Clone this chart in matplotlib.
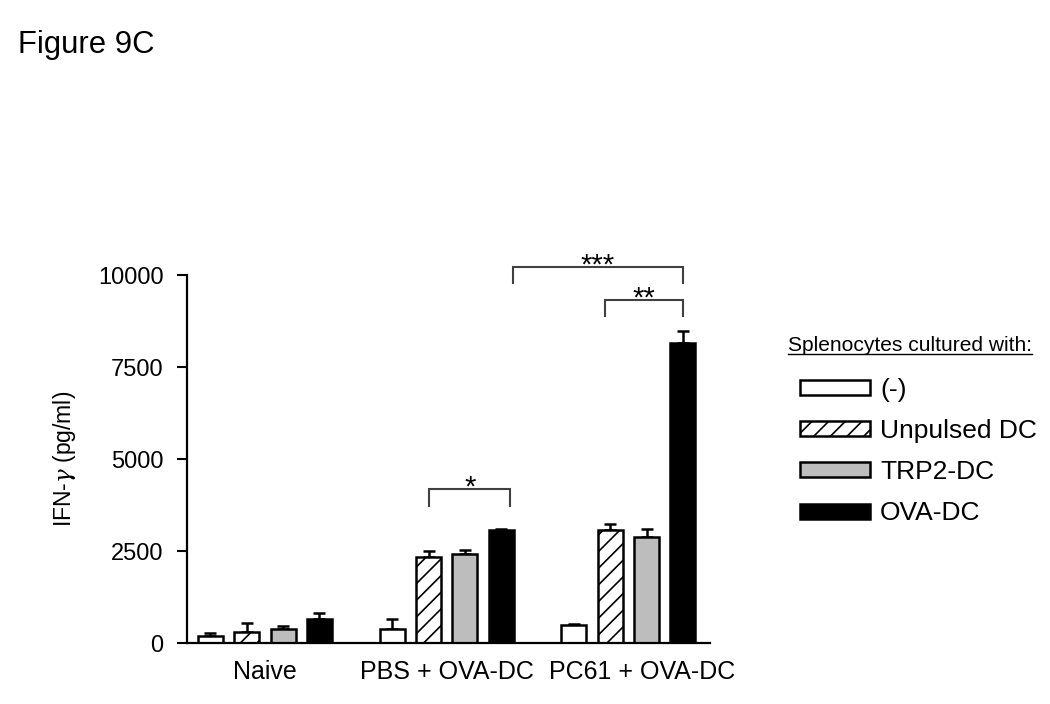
import numpy as np
import matplotlib
matplotlib.use("Agg")
import matplotlib.pyplot as plt
import matplotlib.transforms as mtransforms
from matplotlib.lines import Line2D

plt.rcParams['font.family'] = ['Liberation Sans', 'DejaVu Sans']
plt.rcParams['hatch.linewidth'] = 1.2
plt.rcParams['mathtext.fontset'] = 'custom'
plt.rcParams['mathtext.it'] = 'DejaVu Serif:italic'

groups = ["Naive", "PBS + OVA-DC", "PC61 + OVA-DC"]
series = ["(-)", "Unpulsed DC", "TRP2-DC", "OVA-DC"]
values = {
    "(-)":         [200, 380, 490],
    "Unpulsed DC": [300, 2350, 3070],
    "TRP2-DC":     [380, 2430, 2880],
    "OVA-DC":      [650, 3060, 8150],
}
errors = {
    "(-)":         [60, 270, 30],
    "Unpulsed DC": [240, 150, 160],
    "TRP2-DC":     [80, 90, 210],
    "OVA-DC":      [160, 40, 330],
}
face = {"(-)": "white", "Unpulsed DC": "white", "TRP2-DC": "#bdbdbd", "OVA-DC": "black"}
hatch = {"(-)": None, "Unpulsed DC": "//", "TRP2-DC": None, "OVA-DC": None}

fig = plt.figure(figsize=(10.5, 7.04), dpi=100)
W, H = 1050, 704
ax = fig.add_axes([187 / W, 1 - 643 / H, (710 - 187) / W, (643 - 275) / H])

x = np.arange(len(groups))
step = 0.2
width = 0.137
handles = []
for i, s in enumerate(series):
    pos = x + (i - 1.5) * step
    b = ax.bar(pos, values[s], width=width, color=face[s], edgecolor='black',
               linewidth=1.8, hatch=hatch[s], label=s, zorder=2)
    handles.append(b)
    ax.errorbar(pos, values[s], yerr=[np.zeros(len(groups)), errors[s]], fmt='none',
                ecolor='black', elinewidth=1.8, capsize=4, capthick=1.8, zorder=1)

ax.set_xlim(-0.429, 2.449)
ax.set_ylim(0, 10000)
ax.set_yticks([0, 2500, 5000, 7500, 10000])
ax.set_xticks(x)
ax.set_xticklabels(groups, fontsize=18)
ax.tick_params(axis='y', labelsize=17, length=7, width=1.5, direction='out', pad=10)
ax.tick_params(axis='x', length=0, pad=12)
# the last group label sits a little to the right in the original
lab = ax.get_xticklabels()[-1]
lab.set_transform(lab.get_transform() +
                  mtransforms.ScaledTranslation(14 / 100, 0, fig.dpi_scale_trans))
for sp in ['top', 'right']:
    ax.spines[sp].set_visible(False)
for sp in ['left', 'bottom']:
    ax.spines[sp].set_linewidth(1.6)
ax.set_ylabel(r"IFN-$\gamma$ (pg/ml)", fontsize=16.5, labelpad=14)

px = 10000 / 368.0  # data units per pixel


def bracket(x1, x2, y, drop, label):
    ax.plot([x1, x1, x2, x2], [y - drop, y, y, y - drop], color='#404040', lw=1.5,
            clip_on=False, solid_joinstyle='miter')
    ax.text((x1 + x2) / 2, y - 7 * px, label, ha='center', va='baseline', fontsize=21,
            clip_on=False)


bracket(1.365, 2.30, 10217, 435, "***")
bracket(1.871, 2.30, 9321, 435, "**")
bracket(0.905, 1.35, 4185, 450, "*")

fig.text(18 / W, 1 - 53 / H, "Figure 9C", fontsize=22.3, va='baseline')

t = fig.text(788 / W, 1 - 351 / H, "Splenocytes cultured with:", fontsize=15.1,
             va='baseline')
fig.canvas.draw()
bb = t.get_window_extent()
fig.add_artist(Line2D([bb.x0 / W, bb.x1 / W], [1 - 354 / H, 1 - 354 / H],
                      color='black', lw=1.0, transform=fig.transFigure))

leg = fig.legend(handles=handles, labels=series, loc='upper left',
                 bbox_to_anchor=(800 / W, 1 - 378 / H), frameon=False, fontsize=19,
                 handlelength=2.65, handleheight=0.49, handletextpad=0.38,
                 labelspacing=0.65, borderaxespad=0, borderpad=0)

fig.savefig("out.png", dpi=100)
